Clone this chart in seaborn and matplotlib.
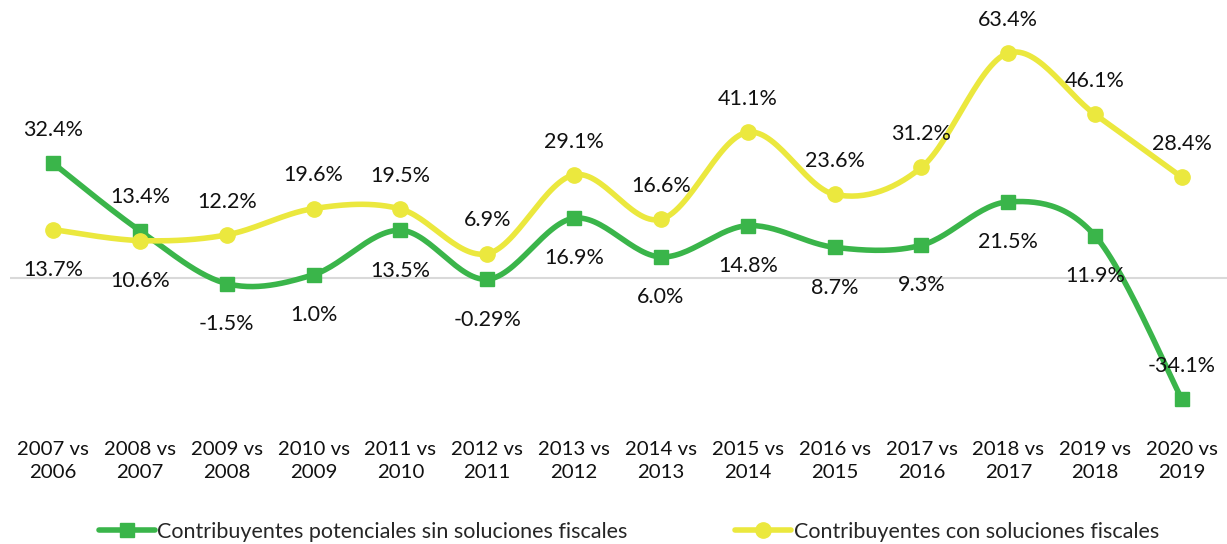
import numpy as np
import pandas as pd
import matplotlib
matplotlib.use("Agg")
import matplotlib.pyplot as plt
import seaborn as sns
from matplotlib.lines import Line2D

categories = ["2007 vs\n2006", "2008 vs\n2007", "2009 vs\n2008", "2010 vs\n2009", "2011 vs\n2010",
              "2012 vs\n2011", "2013 vs\n2012", "2014 vs\n2013", "2015 vs\n2014", "2016 vs\n2015",
              "2017 vs\n2016", "2018 vs\n2017", "2019 vs\n2018", "2020 vs\n2019"]
sin_soluciones = [32.4, 13.4, -1.5, 1.0, 13.5, -0.29, 16.9, 6.0, 14.8, 8.7, 9.3, 21.5, 11.9, -34.1]
sin_labels = ["32.4%", "13.4%", "-1.5%", "1.0%", "13.5%", "-0.29%", "16.9%", "6.0%", "14.8%", "8.7%",
              "9.3%", "21.5%", "11.9%", "-34.1%"]
sin_pos = ["above", "above", "below", "below", "below", "below", "below", "below", "below", "below",
           "below", "below", "below", "above"]
con_soluciones = [13.7, 10.6, 12.2, 19.6, 19.5, 6.9, 29.1, 16.6, 41.1, 23.6, 31.2, 63.4, 46.1, 28.4]
con_labels = ["13.7%", "10.6%", "12.2%", "19.6%", "19.5%", "6.9%", "29.1%", "16.6%", "41.1%", "23.6%",
              "31.2%", "63.4%", "46.1%", "28.4%"]
con_pos = ["below", "below", "above", "above", "above", "above", "above", "above", "above", "above",
           "above", "above", "above", "above"]
series_names = ["Contribuyentes potenciales sin soluciones fiscales", "Contribuyentes con soluciones fiscales"]

sns.set_theme(style="white")
plt.rcParams["font.family"] = ["Lato", "DejaVu Sans"]

GREEN = "#3AB54A"
YELLOW = "#EBE83E"


def smooth(x, y, n=30):
    x = np.asarray(x, float)
    y = np.asarray(y, float)
    P = np.column_stack([x, y])
    out = []
    m = len(P)
    for i in range(m - 1):
        p0 = P[i - 1] if i > 0 else P[i]
        p1 = P[i]
        p2 = P[i + 1]
        p3 = P[i + 2] if i + 2 < m else P[i + 1]
        c1 = p1 + (p2 - p0) / 6.0
        c2 = p2 - (p3 - p1) / 6.0
        t = np.linspace(0, 1, n, endpoint=(i == m - 2))[:, None]
        seg = ((1 - t) ** 3) * p1 + 3 * ((1 - t) ** 2) * t * c1 + 3 * (1 - t) * t ** 2 * c2 + t ** 3 * p2
        out.append(seg)
    out = np.vstack(out)
    return out[:, 0], out[:, 1]


fig = plt.figure(figsize=(12.27, 5.44), dpi=100)
ax = fig.add_axes([10 / 1227, 1 - 420 / 544, 1217 / 1227, 410 / 544])

xs = np.arange(len(categories))
ax.axhline(0, color="#D9D9D9", lw=1.5, zorder=1)

for vals, labels, pos, color, marker, ms, z in [
    (sin_soluciones, sin_labels, sin_pos, GREEN, "s", 10, 3),
    (con_soluciones, con_labels, con_pos, YELLOW, "o", 11, 5),
]:
    sx, sy = smooth(xs, vals)
    df = pd.DataFrame({"x": sx, "y": sy})
    sns.lineplot(data=df, x="x", y="y", ax=ax, color=color, lw=4, sort=False, zorder=z)
    ax.plot(xs, vals, ls="none", marker=marker, ms=ms, color=color, zorder=z + 0.5)
    for xi, v, lab, p in zip(xs, vals, labels, pos):
        off = 24 if p == "above" else -29
        ax.annotate(lab, (xi, v), xytext=(0, off), textcoords="offset points",
                    ha="center", va="center", fontsize=15.5, color="#111111", zorder=10)

x0 = (53 - 10) / 86.85
ax.set_xlim(-x0, len(categories) - 1 + (1227 - 1182) / 86.85)
ax.set_ylim(-39.9, 75.5)
ax.set_xticks(xs)
ax.set_xticklabels(categories, fontsize=14.7, color="#111111", linespacing=1.45)
ax.set_yticks([])
ax.set_xlabel("")
ax.set_ylabel("")
ax.tick_params(axis="x", length=0, pad=15)
for s in ax.spines.values():
    s.set_visible(False)

handles = [
    Line2D([], [], color=GREEN, lw=4, marker="s", ms=10),
    Line2D([], [], color=YELLOW, lw=4, marker="o", ms=11),
]
fig.legend(handles, series_names, loc="center", bbox_to_anchor=(629 / 1227, 1 - 532 / 544), ncol=2,
           frameon=False, fontsize=15.5, handlelength=2.6, handletextpad=0.1, columnspacing=5.0,
           numpoints=1)

fig.savefig("out.png", dpi=100)
